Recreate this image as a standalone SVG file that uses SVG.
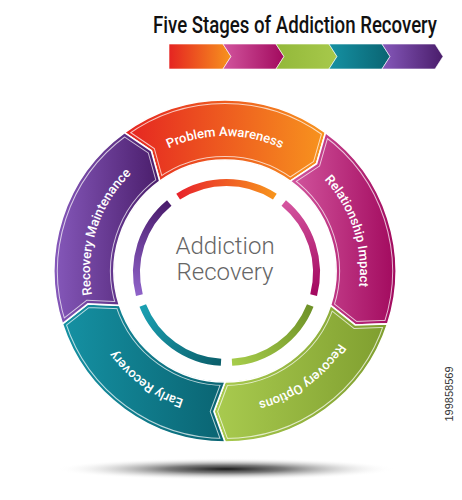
<svg xmlns="http://www.w3.org/2000/svg" xmlns:xlink="http://www.w3.org/1999/xlink" width="462" height="500" viewBox="0 0 462 500">
<style>
.title{font-family:Roboto,"Liberation Sans",sans-serif;font-weight:500;font-size:24px;fill:#111}
.lbl{font-family:Roboto,"Liberation Sans",sans-serif;font-weight:500;font-size:13px;fill:#fff}
.ctr{font-family:"Roboto Light",Roboto,"Liberation Sans",sans-serif;font-weight:300;font-size:24px;fill:#666}
.id{font-family:"Liberation Sans",sans-serif;font-size:11px;fill:#333}
.ins{fill:none;stroke:#fff;stroke-width:8;stroke-opacity:.7}
.gap{fill:none;stroke:#fff;stroke-width:1.6}
.arc{fill:none;stroke-width:7}
.chev{stroke:#fff;stroke-opacity:.6;stroke-width:1}
</style>
<defs>
<linearGradient id="gRed" x1="0" y1="0" x2="1" y2="0"><stop offset="0" stop-color="#e52421"/><stop offset="1" stop-color="#f7941e"/></linearGradient>
<linearGradient id="gMag" x1="0" y1="0" x2="1" y2="0"><stop offset="0" stop-color="#d2559e"/><stop offset="1" stop-color="#a20a5e"/></linearGradient>
<linearGradient id="gGrn" x1="0" y1="0" x2="1" y2="0"><stop offset="0" stop-color="#a9cb4f"/><stop offset="1" stop-color="#7f9e2f"/></linearGradient>
<linearGradient id="gTeal" x1="0" y1="0" x2="1" y2="0"><stop offset="0" stop-color="#1591a3"/><stop offset="1" stop-color="#0a6472"/></linearGradient>
<linearGradient id="gPur" x1="0" y1="0" x2="1" y2="0"><stop offset="0" stop-color="#8558ba"/><stop offset="1" stop-color="#4a1d6b"/></linearGradient>
<linearGradient id="bGrn" x1="0" y1="0" x2="1" y2="0"><stop offset="0" stop-color="#93b83a"/><stop offset="1" stop-color="#a7c94b"/></linearGradient>
<linearGradient id="aRed" gradientUnits="userSpaceOnUse" x1="178" y1="197" x2="275" y2="197"><stop offset="0" stop-color="#e8232b"/><stop offset="1" stop-color="#f7941d"/></linearGradient>
<linearGradient id="aMag" gradientUnits="userSpaceOnUse" x1="284" y1="203" x2="314" y2="295"><stop offset="0" stop-color="#d4559f"/><stop offset="1" stop-color="#a3075f"/></linearGradient>
<linearGradient id="aGrn" gradientUnits="userSpaceOnUse" x1="310" y1="305" x2="232" y2="362"><stop offset="0" stop-color="#6f9228"/><stop offset="1" stop-color="#a6cc4a"/></linearGradient>
<linearGradient id="aTeal" gradientUnits="userSpaceOnUse" x1="221" y1="362" x2="143" y2="305"><stop offset="0" stop-color="#0b5f6b"/><stop offset="1" stop-color="#1aa0b2"/></linearGradient>
<linearGradient id="aPur" gradientUnits="userSpaceOnUse" x1="139" y1="295" x2="169" y2="203"><stop offset="0" stop-color="#8e62c8"/><stop offset="1" stop-color="#4a1c6c"/></linearGradient>
<radialGradient id="shadow" cx="0.5" cy="0.5" r="0.5"><stop offset="0" stop-color="#000" stop-opacity=".9"/><stop offset=".35" stop-color="#333" stop-opacity=".65"/><stop offset=".7" stop-color="#888" stop-opacity=".25"/><stop offset="1" stop-color="#fff" stop-opacity="0"/></radialGradient>
<path id="pRed" d="M124.49,132.66 A171,171 0 0 1 325.51,132.66 L316.57,163.78 L290.24,181.20 A111,111 0 0 0 159.76,181.20 L151.33,150.78 Z"/>
<path id="pMag" d="M325.51,132.66 A171,171 0 0 1 387.63,323.84 L355.27,324.96 L330.57,305.30 A111,111 0 0 0 290.24,181.20 L316.57,163.78 Z"/>
<path id="pGrn" d="M387.63,323.84 A171,171 0 0 1 225,442 L213.94,411.57 L225,382 A111,111 0 0 0 330.57,305.30 L355.27,324.96 Z"/>
<path id="pTeal" d="M225,442 A171,171 0 0 1 62.37,323.84 L87.90,303.92 L119.43,305.30 A111,111 0 0 0 225,382 L213.94,411.57 Z"/>
<path id="pPur" d="M62.37,323.84 A171,171 0 0 1 124.49,132.66 L151.33,150.78 L159.76,181.20 A111,111 0 0 0 119.43,305.30 L87.90,303.92 Z"/>
<clipPath id="cRed"><use href="#pRed"/></clipPath>
<clipPath id="cMag"><use href="#pMag"/></clipPath>
<clipPath id="cGrn"><use href="#pGrn"/></clipPath>
<clipPath id="cTeal"><use href="#pTeal"/></clipPath>
<clipPath id="cPur"><use href="#pPur"/></clipPath>
<path id="tp" d="M225,406 A135,135 0 1 1 225,136 A135,135 0 1 1 225,406"/>
</defs>
<rect width="462" height="500" fill="#fff"/>

<g id="title">
<text class="title" transform="translate(153,33) scale(0.75,1)" x="0" y="0" textLength="378.67" lengthAdjust="spacingAndGlyphs">Five Stages of Addiction Recovery</text>
</g>

<g id="legend-arrows">
<path class="chev" fill="url(#gRed)" d="M169,44 L223,44 L231,56.5 L223,69 L169,69 Z"/>
<path class="chev" fill="url(#gMag)" d="M223,44 L276,44 L284,56.5 L276,69 L223,69 L231,56.5 Z"/>
<path class="chev" fill="url(#bGrn)" d="M276,44 L329,44 L337,56.5 L329,69 L276,69 L284,56.5 Z"/>
<path class="chev" fill="url(#gTeal)" d="M329,44 L382,44 L390,56.5 L382,69 L329,69 L337,56.5 Z"/>
<path class="chev" fill="url(#gPur)" d="M382,44 L435,44 L443,56.5 L435,69 L382,69 L390,56.5 Z"/>
</g>

<ellipse id="shadow-base" cx="226" cy="469" rx="170" ry="11" fill="url(#shadow)"/>

<g id="stage-problem-awareness">
<use href="#pRed" fill="url(#gRed)"/>
<g clip-path="url(#cRed)"><use href="#pRed" class="ins"/><use href="#pRed" fill="none" stroke="url(#gRed)" stroke-width="6"/></g>
<use href="#pRed" class="gap"/>
<path class="arc" stroke="url(#aRed)" d="M178.14,196.59 A90,90 0 0 1 274.86,196.59"/>
<text class="lbl"><textPath href="#tp" startOffset="50%" text-anchor="middle">Problem Awareness</textPath></text>
</g>

<g id="stage-relationship-impact">
<use href="#pMag" fill="url(#gMag)"/>
<g clip-path="url(#cMag)"><use href="#pMag" class="ins"/><use href="#pMag" fill="none" stroke="url(#gMag)" stroke-width="6"/></g>
<use href="#pMag" class="gap"/>
<path class="arc" stroke="url(#aMag)" d="M283.75,203.05 A90,90 0 0 1 313.63,295.03"/>
<text class="lbl"><textPath href="#tp" startOffset="70%" text-anchor="middle">Relationship Impact</textPath></text>
</g>

<g id="stage-recovery-options">
<use href="#pGrn" fill="url(#gGrn)"/>
<g clip-path="url(#cGrn)"><use href="#pGrn" class="ins"/><use href="#pGrn" fill="none" stroke="url(#gGrn)" stroke-width="6"/></g>
<use href="#pGrn" class="gap"/>
<path class="arc" stroke="url(#aGrn)" d="M310.24,305.49 A90,90 0 0 1 231.99,362.33"/>
<text class="lbl"><textPath href="#tp" startOffset="90%" text-anchor="middle">Recovery Options</textPath></text>
</g>

<g id="stage-early-recovery">
<use href="#pTeal" fill="url(#gTeal)"/>
<g clip-path="url(#cTeal)"><use href="#pTeal" class="ins"/><use href="#pTeal" fill="none" stroke="url(#gTeal)" stroke-width="6"/></g>
<use href="#pTeal" class="gap"/>
<path class="arc" stroke="url(#aTeal)" d="M221.01,362.33 A90,90 0 0 1 142.76,305.49"/>
<text class="lbl"><textPath href="#tp" startOffset="10%" text-anchor="middle">Early Recovery</textPath></text>
</g>

<g id="stage-recovery-maintenance">
<use href="#pPur" fill="url(#gPur)"/>
<g clip-path="url(#cPur)"><use href="#pPur" class="ins"/><use href="#pPur" fill="none" stroke="url(#gPur)" stroke-width="6"/></g>
<use href="#pPur" class="gap"/>
<path class="arc" stroke="url(#aPur)" d="M139.37,295.03 A90,90 0 0 1 169.25,203.05"/>
<text class="lbl"><textPath href="#tp" startOffset="30%" text-anchor="middle">Recovery Maintenance</textPath></text>
</g>

<g id="center-addiction-recovery">
<text class="ctr" x="225" y="254" text-anchor="middle">Addiction</text>
<text class="ctr" x="225" y="280" text-anchor="middle">Recovery</text>
</g>

<g id="connectors"></g>

<text class="id" transform="translate(453,394) rotate(-90)" text-anchor="middle">199858569</text>
</svg>
